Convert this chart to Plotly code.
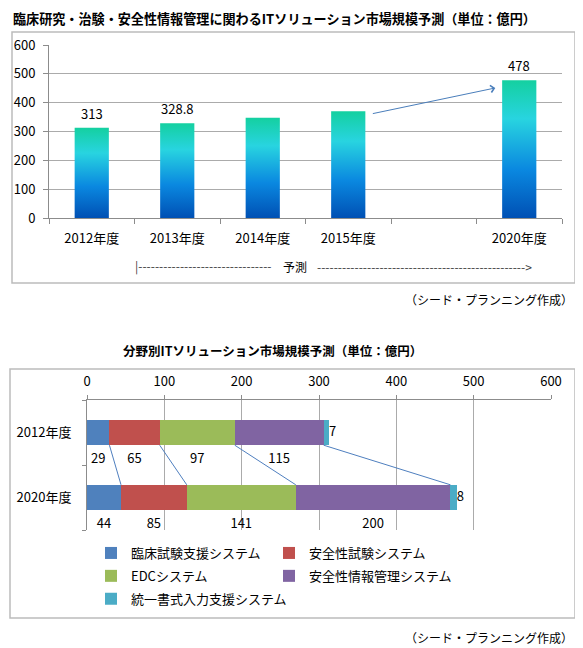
import plotly.graph_objects as go

# page body has an 8px margin: the figure starts at (8, 8) in the window
OFF = 8
W, H = 575, 640
FONT = "Noto Sans CJK JP"

# ---------------- data: chart 1 ----------------
top_title = "臨床研究・治験・安全性情報管理に関わるITソリューション市場規模予測（単位：億円）"
top_categories = ["2012年度", "2013年度", "2014年度", "2015年度", "", "2020年度"]
top_values = [313, 328.8, 348, 370, None, 478]
top_value_labels = ["313", "328.8", "", "", "", "478"]
top_y_ticks = [0, 100, 200, 300, 400, 500, 600]
forecast_label = "予測"
source_label = "（シード・プランニング作成）"

# ---------------- data: chart 2 ----------------
bottom_title = "分野別ITソリューション市場規模予測（単位：億円）"
bottom_categories = ["2012年度", "2020年度"]
series_names = ["臨床試験支援システム", "安全性試験システム", "EDCシステム",
                "安全性情報管理システム", "統一書式入力支援システム"]
clinical_trial = [29, 44]
safety_test = [65, 85]
edc = [97, 141]
safety_info = [115, 200]
unified_form = [7, 8]
bottom_x_ticks = [0, 100, 200, 300, 400, 500, 600]
series_colors = ["#4F81BD", "#C0504D", "#9BBB59", "#8064A2", "#4BACC6"]

GRAD = [[0.0, "#0050b4"], [0.35, "#0a88e0"], [0.72, "#28d4e0"], [1.0, "#14d0a0"]]
GRID = "#ababab"
AXIS = "#8c8c8c"
BORDER = "#bcbcbc"


def fx(p):
    return (p - OFF) / W


def fy(p):
    return 1 - (p - OFF) / H


fig = go.Figure()

# ---------------- chart 1: gradient bars ----------------
BAR_W = 0.4
for i, (cat, v) in enumerate(zip(top_categories, top_values)):
    if v is None:
        continue
    x0, x1 = i - BAR_W / 2, i + BAR_W / 2
    fig.add_trace(go.Scatter(
        x=[x0, x0, x1, x1, x0], y=[0, v, v, 0, 0],
        fill="toself", mode="lines",
        line=dict(width=0, color="rgba(0,0,0,0)"),
        fillgradient=dict(type="vertical", colorscale=GRAD),
        showlegend=False, hoverinfo="skip", xaxis="x", yaxis="y"))

for i, t in enumerate(top_value_labels):
    if t:
        fig.add_annotation(x=i, y=top_values[i], xref="x", yref="y", text=t,
                           showarrow=False, xanchor="center", yanchor="bottom",
                           yshift=3, font=dict(family=FONT, size=13, color="#000"))

# arrow 2015 -> 2020
i15 = top_categories.index("2015年度")
i20 = top_categories.index("2020年度")
fig.add_annotation(
    x=i20 - BAR_W / 2 - 0.08, y=top_values[i20] - 27,
    ax=i15 + BAR_W / 2 + 0.07, ay=top_values[i15] - 9,
    xref="x", yref="y", axref="x", ayref="y",
    showarrow=True, arrowhead=4, arrowsize=1.4, arrowwidth=1,
    arrowcolor="#4a7ebb", text="")

# ---------------- chart 2: stacked horizontal bars ----------------
series = [clinical_trial, safety_test, edc, safety_info, unified_form]
HB_W = 0.39
rows = list(range(len(bottom_categories)))
for k, (name, vals, col) in enumerate(zip(series_names, series, series_colors)):
    fig.add_trace(go.Bar(
        x=vals, y=rows, orientation="h", width=HB_W,
        marker=dict(color=col, line=dict(width=0)),
        name=name, legendgroup=name,
        legend="legend" if k % 2 == 0 else "legend2",
        xaxis="x2", yaxis="y2", hoverinfo="x+name"))

# cumulative ends
cum = []
for r in rows:
    acc, ends = 0, []
    for s in series:
        acc += s[r]
        ends.append(acc)
    cum.append(ends)

# labels below segments (first four series)
lx, ly, lt = [], [], []
for r in rows:
    start = 0
    for k, s in enumerate(series[:-1]):
        lx.append(start + s[r] / 2)
        ly.append(r + 0.42)
        lt.append(str(s[r]))
        start += s[r]
fig.add_trace(go.Scatter(
    x=lx, y=ly, text=lt, mode="text", textposition="middle center",
    textfont=dict(family=FONT, size=13, color="#000"),
    showlegend=False, hoverinfo="skip", xaxis="x2", yaxis="y2"))
# last small series label at the bar end
fig.add_trace(go.Scatter(
    x=[cum[r][-1] for r in rows], y=rows,
    text=[str(unified_form[r]) for r in rows],
    mode="text", textposition="middle right",
    textfont=dict(family=FONT, size=13, color="#000"),
    showlegend=False, hoverinfo="skip", xaxis="x2", yaxis="y2"))

# series connector lines
cx, cy = [], []
for k in range(len(series) - 1):
    cx += [cum[0][k], cum[1][k], None]
    cy += [rows[0] + HB_W / 2, rows[1] - HB_W / 2, None]
fig.add_trace(go.Scatter(
    x=cx, y=cy, mode="lines", line=dict(color="#4f7fbf", width=1),
    showlegend=False, hoverinfo="skip", xaxis="x2", yaxis="y2"))

# ---------------- layout ----------------
tickfont = dict(family=FONT, size=13, color="#000")
fig.update_layout(
    width=W, height=H,
    margin=dict(l=0, r=0, t=0, b=0, autoexpand=False),
    paper_bgcolor="white", plot_bgcolor="white",
    barmode="stack",
    hovermode="closest",
    font=dict(family=FONT, size=13, color="#000"),
    xaxis=dict(
        domain=[fx(49), fx(562)], range=[-0.5, len(top_categories) - 0.5],
        anchor="y", tickmode="array", tickvals=list(range(len(top_categories))),
        ticktext=top_categories, ticks="", showgrid=False, zeroline=False,
        showline=True, linecolor=AXIS, linewidth=1, tickfont=tickfont,
        ticklabelstandoff=8, automargin=False,
        minor=dict(tickmode="array",
                   tickvals=[i - 0.5 for i in range(len(top_categories) + 1)],
                   ticks="outside", ticklen=5, tickcolor=AXIS, showgrid=False),
        fixedrange=True),
    yaxis=dict(
        domain=[fy(218), fy(45)], range=[0, 600], anchor="x",
        tickmode="array", tickvals=top_y_ticks,
        showgrid=True, gridcolor=GRID, gridwidth=1, zeroline=False,
        showline=True, linecolor=AXIS, linewidth=1,
        ticks="outside", ticklen=5, tickcolor=AXIS, tickfont=tickfont,
        ticklabelstandoff=5, automargin=False, fixedrange=True),
    xaxis2=dict(
        domain=[fx(87), fx(551)], range=[0, 600], anchor="y2", side="top",
        tickmode="array", tickvals=bottom_x_ticks,
        showgrid=True, gridcolor=GRID, gridwidth=1, zeroline=False,
        showline=True, linecolor=AXIS, linewidth=1,
        ticks="outside", ticklen=4, tickcolor=AXIS, tickfont=tickfont,
        ticklabelstandoff=4, automargin=False, fixedrange=True),
    yaxis2=dict(
        domain=[fy(530), fy(400)], range=[len(rows) - 0.5, -0.5], anchor="x2",
        tickmode="array", tickvals=rows, ticktext=bottom_categories,
        ticks="", showgrid=False, zeroline=False,
        showline=True, linecolor=AXIS, linewidth=1, tickfont=tickfont,
        ticklabelstandoff=12, automargin=False,
        minor=dict(tickmode="array", tickvals=[r - 0.5 for r in range(len(rows) + 1)],
                   ticks="outside", ticklen=4, tickcolor=AXIS, showgrid=False),
        fixedrange=True),
    legend=dict(x=fx(91), y=fy(538), xanchor="left", yanchor="top",
                orientation="v", traceorder="grouped", tracegroupgap=3,
                font=dict(family=FONT, size=13, color="#000"),
                bgcolor="rgba(0,0,0,0)", borderwidth=0),
    legend2=dict(x=fx(269), y=fy(538), xanchor="left", yanchor="top",
                 orientation="v", traceorder="grouped", tracegroupgap=3,
                 font=dict(family=FONT, size=13, color="#000"),
                 bgcolor="rgba(0,0,0,0)", borderwidth=0),
)

# chart frames
fig.add_shape(type="rect", xref="paper", yref="paper",
              x0=fx(12), x1=fx(575), y0=fy(283), y1=fy(32),
              line=dict(color=BORDER, width=1.5), layer="below")
fig.add_shape(type="rect", xref="paper", yref="paper",
              x0=fx(10), x1=fx(575), y0=fy(618), y1=fy(369),
              line=dict(color=BORDER, width=1.5), layer="below")

# titles and notes
fig.add_annotation(xref="paper", yref="paper", x=fx(274.5), y=1,
                   text=top_title, showarrow=False, xanchor="center", yanchor="top",
                   borderpad=0,
                   font=dict(family=FONT, size=13.1, color="#000", weight="bold"))
fig.add_annotation(xref="paper", yref="paper", x=fx(272), y=fy(350),
                   text=bottom_title, showarrow=False, xanchor="center", yanchor="middle",
                   font=dict(family=FONT, size=12.5, color="#000", weight="bold"))
for yy in (299, 637):
    fig.add_annotation(xref="paper", yref="paper", x=fx(575), y=fy(yy),
                       text=source_label, showarrow=False, xanchor="right", yanchor="middle",
                       font=dict(family=FONT, size=12, color="#000"))

# forecast line under the first chart
fig.add_annotation(xref="paper", yref="paper", x=fx(133), y=fy(266),
                   text="|" + "-" * 32, showarrow=False, xanchor="left", yanchor="middle",
                   font=dict(family=FONT, size=12, color="#404040"))
fig.add_annotation(xref="paper", yref="paper", x=fx(295), y=fy(266),
                   text=forecast_label, showarrow=False, xanchor="center", yanchor="middle",
                   font=dict(family=FONT, size=12, color="#000"))
fig.add_annotation(xref="paper", yref="paper", x=fx(534), y=fy(266),
                   text="-" * 50 + ">", showarrow=False, xanchor="right", yanchor="middle",
                   font=dict(family=FONT, size=12, color="#404040"))

fig.write_html("out.html")
